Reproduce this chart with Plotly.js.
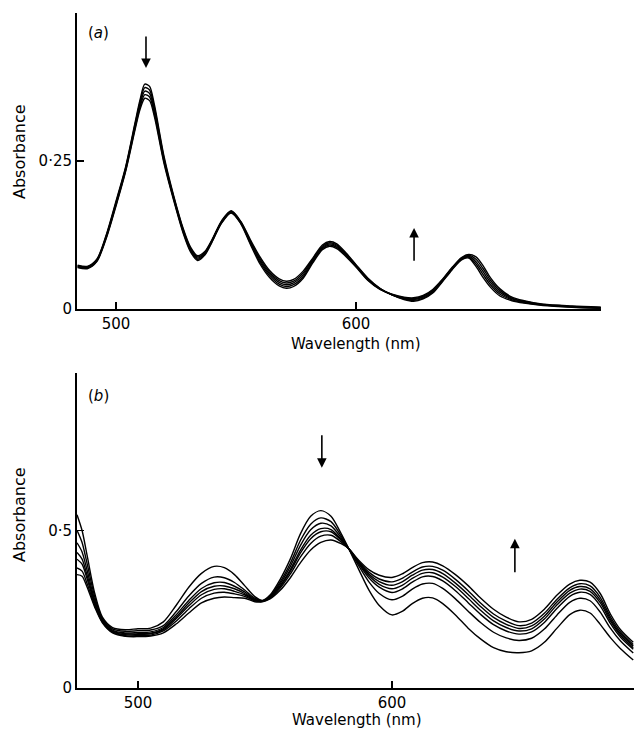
<!DOCTYPE html>
<html>
<head>
<meta charset="utf-8">
<script src="https://cdn.plot.ly/plotly-3.0.1.min.js"></script>
<style>html,body{margin:0;padding:0;background:#fff;}#chart{width:636px;height:730px;}</style>
</head>
<body>
<div id="chart"></div>
<script>
// ---------- Panel (a) data ----------
const wlA = [484,488,492,496,500,504,508,510,512,514,516,520,524,528,531,534,537,540,544,548,552,556,560,564,568,571,574,578,582,586,589,592,596,600,605,610,615,620,624,628,632,636,640,644,647,650,653,656,660,665,670,678,690,702];
const absA1 = [0.074,0.072,0.084,0.126,0.182,0.240,0.316,0.353,0.380,0.376,0.345,0.258,0.192,0.136,0.105,0.090,0.097,0.117,0.149,0.166,0.148,0.117,0.088,0.065,0.051,0.047,0.050,0.064,0.086,0.108,0.114,0.110,0.094,0.075,0.052,0.035,0.024,0.016,0.013,0.017,0.027,0.046,0.066,0.083,0.086,0.072,0.053,0.037,0.022,0.014,0.010,0.006,0.003,0.001];
const absA2 = [0.073,0.071,0.083,0.1245,0.180,0.238,0.313,0.349,0.374,0.370,0.340,0.255,0.190,0.134,0.103,0.088,0.0955,0.116,0.148,0.165,0.147,0.115,0.085,0.062,0.048,0.044,0.047,0.061,0.084,0.106,0.112,0.108,0.0925,0.074,0.051,0.0345,0.024,0.017,0.0145,0.0185,0.0285,0.047,0.067,0.084,0.0875,0.076,0.058,0.041,0.025,0.0155,0.011,0.0065,0.0035,0.0015];
const absA3 = [0.072,0.070,0.082,0.123,0.178,0.236,0.310,0.345,0.368,0.364,0.335,0.252,0.188,0.132,0.101,0.086,0.094,0.115,0.147,0.164,0.146,0.113,0.082,0.059,0.045,0.041,0.044,0.058,0.082,0.104,0.110,0.106,0.091,0.073,0.050,0.034,0.024,0.018,0.016,0.020,0.030,0.048,0.068,0.085,0.089,0.080,0.063,0.045,0.028,0.017,0.012,0.007,0.004,0.002];
const absA4 = [0.071,0.069,0.081,0.1215,0.176,0.234,0.307,0.341,0.362,0.358,0.330,0.249,0.186,0.130,0.099,0.084,0.0925,0.114,0.146,0.163,0.145,0.111,0.079,0.056,0.042,0.038,0.041,0.055,0.080,0.102,0.108,0.104,0.0895,0.072,0.049,0.0335,0.0245,0.019,0.0175,0.0215,0.0315,0.049,0.069,0.086,0.0905,0.084,0.068,0.049,0.031,0.0185,0.013,0.0075,0.0045,0.0025];
const absA5 = [0.070,0.068,0.080,0.120,0.174,0.232,0.304,0.337,0.356,0.352,0.325,0.246,0.184,0.128,0.097,0.082,0.091,0.113,0.145,0.162,0.144,0.109,0.076,0.053,0.039,0.035,0.038,0.052,0.078,0.100,0.106,0.102,0.088,0.071,0.048,0.033,0.025,0.020,0.019,0.023,0.033,0.050,0.070,0.087,0.092,0.088,0.073,0.053,0.034,0.020,0.014,0.008,0.005,0.003];

// ---------- Panel (b) data ----------
const wlB = [476,478,480,483,486,490,495,500,505,510,515,520,525,530,534,538,542,546,549,552,556,560,564,568,572,576,580,583,587,591,595,600,604,608,612,616,620,625,630,635,640,645,650,655,660,665,670,674,678,682,686,690,695];
const absB1 = [0.550,0.500,0.420,0.300,0.225,0.192,0.185,0.188,0.190,0.210,0.262,0.320,0.364,0.386,0.382,0.360,0.325,0.290,0.278,0.295,0.345,0.410,0.490,0.545,0.563,0.545,0.490,0.442,0.375,0.310,0.262,0.232,0.243,0.268,0.285,0.286,0.268,0.232,0.190,0.155,0.128,0.115,0.112,0.118,0.145,0.190,0.233,0.247,0.238,0.202,0.160,0.125,0.089];
const absB2 = [0.501,0.462,0.394,0.289,0.220,0.188,0.180,0.182,0.184,0.198,0.242,0.292,0.332,0.352,0.350,0.335,0.311,0.285,0.277,0.292,0.337,0.396,0.469,0.520,0.540,0.528,0.483,0.442,0.387,0.336,0.300,0.280,0.291,0.314,0.330,0.332,0.316,0.283,0.244,0.207,0.177,0.159,0.151,0.158,0.187,0.232,0.272,0.285,0.277,0.241,0.190,0.149,0.111];
const absB3 = [0.461,0.432,0.373,0.279,0.217,0.184,0.175,0.176,0.178,0.192,0.232,0.278,0.316,0.334,0.335,0.323,0.305,0.282,0.276,0.290,0.331,0.386,0.453,0.502,0.523,0.515,0.477,0.442,0.393,0.349,0.320,0.303,0.314,0.336,0.353,0.354,0.340,0.309,0.271,0.233,0.201,0.181,0.171,0.178,0.208,0.253,0.291,0.304,0.297,0.261,0.205,0.161,0.123];
const absB4 = [0.430,0.409,0.357,0.272,0.214,0.181,0.172,0.172,0.174,0.188,0.225,0.269,0.306,0.323,0.324,0.315,0.300,0.280,0.276,0.288,0.325,0.376,0.438,0.485,0.506,0.503,0.472,0.442,0.396,0.356,0.329,0.315,0.326,0.348,0.364,0.366,0.352,0.322,0.285,0.246,0.213,0.192,0.181,0.188,0.219,0.264,0.301,0.314,0.307,0.271,0.213,0.167,0.128];
const absB5 = [0.409,0.393,0.346,0.267,0.212,0.179,0.169,0.170,0.172,0.185,0.220,0.261,0.296,0.313,0.315,0.307,0.296,0.278,0.275,0.287,0.322,0.370,0.429,0.474,0.496,0.496,0.469,0.442,0.399,0.361,0.338,0.326,0.337,0.358,0.374,0.376,0.363,0.333,0.297,0.258,0.224,0.202,0.189,0.197,0.228,0.273,0.310,0.322,0.315,0.279,0.219,0.172,0.133];
const absB6 = [0.381,0.371,0.331,0.261,0.209,0.177,0.166,0.166,0.168,0.181,0.212,0.251,0.285,0.301,0.304,0.299,0.291,0.277,0.275,0.285,0.317,0.362,0.416,0.459,0.482,0.485,0.464,0.442,0.401,0.367,0.346,0.337,0.348,0.368,0.384,0.386,0.374,0.345,0.309,0.269,0.235,0.212,0.198,0.206,0.237,0.282,0.318,0.331,0.324,0.288,0.226,0.178,0.138];
const absB7 = [0.360,0.355,0.320,0.256,0.207,0.175,0.164,0.163,0.165,0.175,0.203,0.238,0.270,0.285,0.289,0.287,0.285,0.274,0.274,0.283,0.310,0.350,0.398,0.438,0.462,0.470,0.458,0.442,0.405,0.375,0.358,0.351,0.362,0.382,0.398,0.400,0.388,0.360,0.325,0.285,0.250,0.225,0.210,0.218,0.250,0.295,0.330,0.342,0.336,0.300,0.235,0.185,0.145];

// ---------- Tick labels ----------
const xTickValsA = [500, 600, 702];
const xTickTextA = ['500', '600', ''];
const yTickValsA = [0, 0.25];
const yTickTextA = ['0', '0·25'];
const xTickValsB = [500, 600, 695];
const xTickTextB = ['500', '600', ''];
const yTickValsB = [0, 0.5];
const yTickTextB = ['0', '0·5'];

const FONT = 'DejaVu Sans, sans-serif';
const lineStyle = {color: '#000', width: 1.4, shape: 'spline', smoothing: 0.8};

const seriesA = [absA1, absA2, absA3, absA4, absA5];
const seriesB = [absB1, absB2, absB3, absB4, absB5, absB6, absB7];

const traces = [];
seriesA.forEach(function(s){
  traces.push({x: wlA, y: s, type: 'scatter', mode: 'lines', line: lineStyle, xaxis: 'x', yaxis: 'y', hoverinfo: 'skip'});
});
seriesB.forEach(function(s){
  traces.push({x: wlB, y: s, type: 'scatter', mode: 'lines', line: lineStyle, xaxis: 'x2', yaxis: 'y2', hoverinfo: 'skip'});
});

const axisCommon = {
  showline: true, linecolor: '#000', linewidth: 2, mirror: false,
  showgrid: false, zeroline: false,
  ticks: 'inside', ticklen: 7, tickwidth: 1.5, tickcolor: '#000',
  tickfont: {family: FONT, size: 15, color: '#000'},
  tickmode: 'array', fixedrange: true
};

const layout = {
  width: 636, height: 730,
  margin: {l: 0, r: 0, t: 0, b: 0},
  paper_bgcolor: '#fff', plot_bgcolor: '#fff',
  showlegend: false,
  xaxis: Object.assign({}, axisCommon, {domain: [77/636, 601/636], range: [483.75, 702.1], anchor: 'y', tickvals: xTickValsA, ticktext: xTickTextA}),
  yaxis: Object.assign({}, axisCommon, {domain: [(730-309)/730, (730-13)/730], range: [0, 0.5], anchor: 'x', tickvals: yTickValsA, ticktext: yTickTextA}),
  xaxis2: Object.assign({}, axisCommon, {domain: [77/636, 634/636], range: [476, 695.3], anchor: 'y2', tickvals: xTickValsB, ticktext: xTickTextB}),
  yaxis2: Object.assign({}, axisCommon, {domain: [(730-688)/730, (730-373)/730], range: [0, 1.0], anchor: 'x2', tickvals: yTickValsB, ticktext: yTickTextB}),
  annotations: [
    {text: '(<i>a</i>)', xref: 'paper', yref: 'paper', x: 98/636, y: (730-33)/730, showarrow: false, xanchor: 'center', yanchor: 'middle', font: {family: FONT, size: 15, color: '#000'}},
    {text: '(<i>b</i>)', xref: 'paper', yref: 'paper', x: 98/636, y: (730-396)/730, showarrow: false, xanchor: 'center', yanchor: 'middle', font: {family: FONT, size: 15, color: '#000'}},
    {text: 'Absorbance', xref: 'paper', yref: 'paper', x: 19/636, y: (730-152)/730, textangle: -90, showarrow: false, xanchor: 'center', yanchor: 'middle', font: {family: FONT, size: 16, color: '#000'}},
    {text: 'Absorbance', xref: 'paper', yref: 'paper', x: 19/636, y: (730-515)/730, textangle: -90, showarrow: false, xanchor: 'center', yanchor: 'middle', font: {family: FONT, size: 16, color: '#000'}},
    {text: 'Wavelength (nm)', xref: 'paper', yref: 'paper', x: 356/636, y: (730-344)/730, showarrow: false, xanchor: 'center', yanchor: 'middle', font: {family: FONT, size: 15, color: '#000'}},
    {text: 'Wavelength (nm)', xref: 'paper', yref: 'paper', x: 357/636, y: (730-720)/730, showarrow: false, xanchor: 'center', yanchor: 'middle', font: {family: FONT, size: 15, color: '#000'}},
    // arrows
    {xref: 'x', yref: 'y', axref: 'x', ayref: 'y', x: 512.5, y: 0.407, ax: 512.5, ay: 0.463, showarrow: true, arrowhead: 2, arrowsize: 1.2, arrowwidth: 1.6, arrowcolor: '#000', text: ''},
    {xref: 'x', yref: 'y', axref: 'x', ayref: 'y', x: 624.2, y: 0.137, ax: 624.2, ay: 0.079, showarrow: true, arrowhead: 2, arrowsize: 1.2, arrowwidth: 1.6, arrowcolor: '#000', text: ''},
    {xref: 'x2', yref: 'y2', axref: 'x2', ayref: 'y2', x: 572.4, y: 0.699, ax: 572.4, ay: 0.807, showarrow: true, arrowhead: 2, arrowsize: 1.2, arrowwidth: 1.6, arrowcolor: '#000', text: ''},
    {xref: 'x2', yref: 'y2', axref: 'x2', ayref: 'y2', x: 648.4, y: 0.474, ax: 648.4, ay: 0.363, showarrow: true, arrowhead: 2, arrowsize: 1.2, arrowwidth: 1.6, arrowcolor: '#000', text: ''}
  ]
};

Plotly.newPlot('chart', traces, layout, {staticPlot: true, displayModeBar: false});
</script>
</body>
</html>
